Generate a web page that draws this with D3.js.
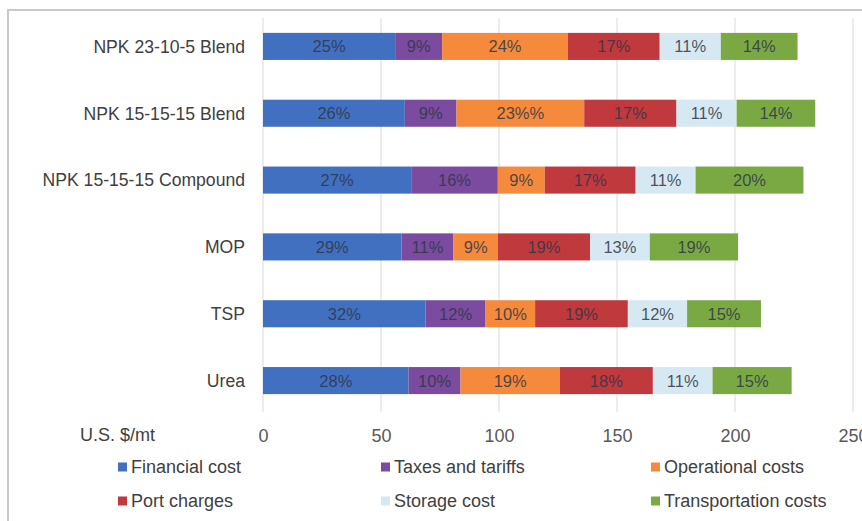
<!DOCTYPE html>
<html>
<head>
<meta charset="utf-8">
<script src="https://cdn.jsdelivr.net/npm/d3@7"></script>
<style>
  html, body { margin: 0; padding: 0; background: #ffffff; }
  svg { display: block; font-family: "Liberation Sans", Arial, sans-serif; }
</style>
</head>
<body>
<svg id="chart" width="862" height="521"></svg>
<script>
// Import cost breakdown by fertilizer product, U.S. $/mt
const categories = ["NPK 23-10-5 Blend", "NPK 15-15-15 Blend", "NPK 15-15-15 Compound", "MOP", "TSP", "Urea"];
const seriesNames = ["Financial cost", "Taxes and tariffs", "Operational costs", "Port charges", "Storage cost", "Transportation costs"];

const financialCost   = [56.0, 60.1, 62.8, 58.7, 68.9, 61.7];
const taxesTariffs    = [19.9, 21.9, 36.7, 22.0, 25.4, 22.0];
const operationalCost = [53.3, 54.1, 19.9, 18.8, 21.0, 42.1];
const portCharges     = [38.9, 39.1, 38.5, 39.1, 39.3, 39.4];
const storageCost     = [25.9, 25.5, 25.4, 25.3, 25.1, 25.3];
const transportCost   = [32.5, 33.3, 45.7, 37.4, 31.3, 33.5];

// Share-of-total labels printed on each segment
const financialLabels   = ["25%", "26%", "27%", "29%", "32%", "28%"];
const taxesLabels       = ["9%", "9%", "16%", "11%", "12%", "10%"];
const operationalLabels = ["24%", "23%%", "9%", "9%", "10%", "19%"];
const portLabels        = ["17%", "17%", "17%", "19%", "19%", "18%"];
const storageLabels     = ["11%", "11%", "11%", "13%", "12%", "11%"];
const transportLabels   = ["14%", "14%", "20%", "19%", "15%", "15%"];

const xTicks = [0, 50, 100, 150, 200, 250];
const colors = ["#4170c0", "#7a4b9f", "#f58a3c", "#c0393d", "#d6e8f1", "#7aa944"];

const seriesValues = [financialCost, taxesTariffs, operationalCost, portCharges, storageCost, transportCost];
const seriesLabels = [financialLabels, taxesLabels, operationalLabels, portLabels, storageLabels, transportLabels];

const rows = categories.map((c, i) => {
  const r = { category: c };
  seriesNames.forEach((s, k) => { r[s] = seriesValues[k][i]; });
  return r;
});

const svg = d3.select("#chart");

// outer frame
svg.append("rect")
  .attr("x", 8).attr("y", 10)
  .attr("width", 900).attr("height", 560)
  .attr("fill", "#ffffff")
  .attr("stroke", "#c9c9c9")
  .attr("stroke-width", 2);

const x = d3.scaleLinear().domain([0, 250]).range([263, 853]);
const y = d3.scaleBand().domain(categories).range([13, 414]).paddingInner(0.595).paddingOuter(0.2975);

// vertical gridlines
svg.append("g")
  .selectAll("line")
  .data(xTicks)
  .join("line")
  .attr("x1", d => x(d)).attr("x2", d => x(d))
  .attr("y1", 18).attr("y2", 412)
  .attr("stroke", "#d9d9d9")
  .attr("stroke-width", 1);

const stack = d3.stack().keys(seriesNames);
const layers = stack(rows);

const layerG = svg.append("g")
  .selectAll("g")
  .data(layers)
  .join("g")
  .attr("fill", (d, k) => colors[k]);

layerG.selectAll("rect")
  .data(d => d)
  .join("rect")
  .attr("x", d => x(d[0]))
  .attr("width", d => x(d[1]) - x(d[0]))
  .attr("y", d => y(d.data.category))
  .attr("height", y.bandwidth());

// segment labels
const labelG = svg.append("g")
  .selectAll("g")
  .data(layers)
  .join("g");

labelG.selectAll("text")
  .data((d, k) => d.map((seg, i) => ({ seg, text: seriesLabels[k][i] })))
  .join("text")
  .attr("x", d => (x(d.seg[0]) + x(d.seg[1])) / 2)
  .attr("y", d => y(d.seg.data.category) + y.bandwidth() / 2)
  .attr("dy", "0.36em")
  .attr("text-anchor", "middle")
  .attr("font-size", "16.5px")
  .attr("fill", "#2f3648")
  .attr("fill-opacity", 0.85)
  .text(d => d.text);

// category labels
svg.append("g")
  .selectAll("text")
  .data(categories)
  .join("text")
  .attr("x", 245)
  .attr("y", d => y(d) + y.bandwidth() / 2)
  .attr("dy", "0.36em")
  .attr("text-anchor", "end")
  .attr("font-size", "17.6px")
  .attr("fill", "#404040")
  .text(d => d);

// x axis tick labels
const xAxis = d3.axisBottom(x).tickValues(xTicks).tickSize(0).tickPadding(0);
const axisG = svg.append("g")
  .attr("transform", "translate(0,429)")
  .call(xAxis);
axisG.select(".domain").remove();
axisG.selectAll("text")
  .attr("font-size", "18px")
  .attr("font-family", "'Liberation Sans', Arial, sans-serif")
  .attr("fill", "#595959");

svg.append("text")
  .attr("x", 80).attr("y", 435)
  .attr("dy", "0.36em")
  .attr("font-size", "18px")
  .attr("fill", "#404040")
  .text("U.S. $/mt");

// legend: two rows of three
const legendCols = [118, 381, 651];
const legendRows = [467, 501];
const legend = svg.append("g")
  .selectAll("g")
  .data(seriesNames)
  .join("g")
  .attr("transform", (d, k) => `translate(${legendCols[k % 3]},${legendRows[Math.floor(k / 3)]})`);

legend.append("rect")
  .attr("x", 0).attr("y", -4.5)
  .attr("width", 9).attr("height", 9)
  .attr("fill", (d, k) => colors[k]);

legend.append("text")
  .attr("x", 13)
  .attr("dy", "0.36em")
  .attr("font-size", "18px")
  .attr("fill", "#404040")
  .text(d => d);
</script>
</body>
</html>
